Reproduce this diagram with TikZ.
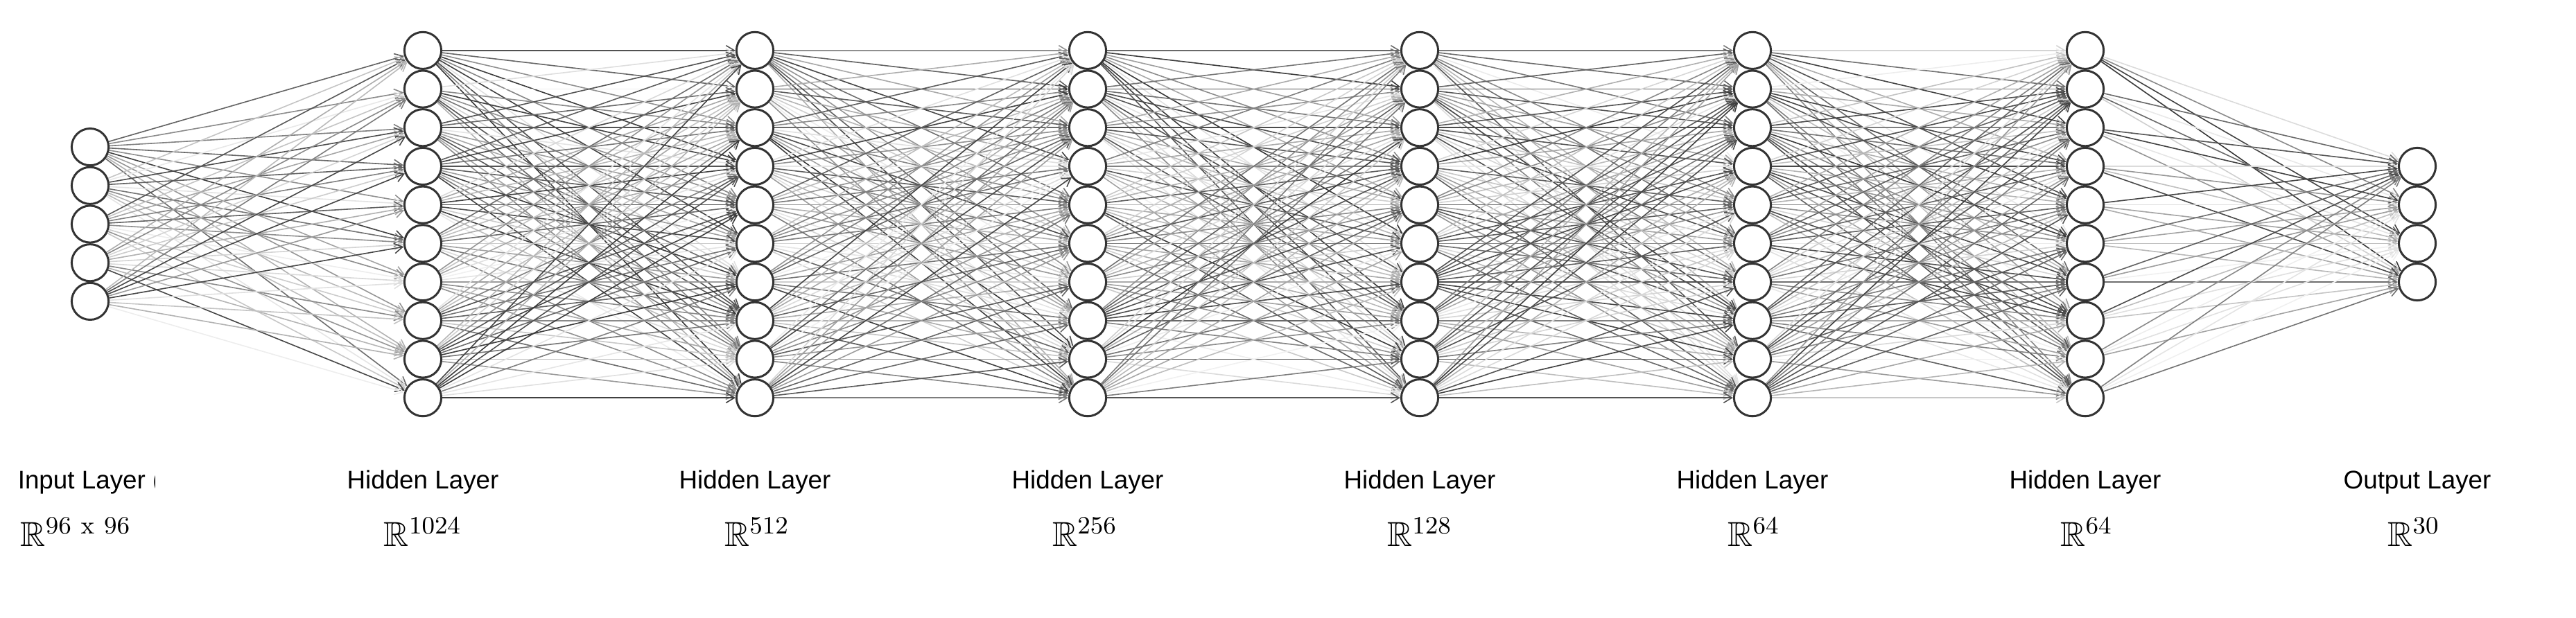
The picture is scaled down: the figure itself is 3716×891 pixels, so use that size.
\documentclass[tikz,border=0pt]{standalone}
\usepackage{amssymb}
\usepackage[no-math]{fontspec}
\setmainfont{Liberation Sans}
\usetikzlibrary{arrows.meta,backgrounds}
\begin{document}
\begin{tikzpicture}[x=0.25pt,y=-0.25pt,
  neuron/.style={circle,draw=black!80,line width=0.75pt,fill=white,minimum size=13.3pt,inner sep=0pt},
  edge/.style={line width=0.4pt,-{Straight Barb[length=3pt,width=3.6pt]}},
  lbl/.style={font=\fontsize{9.2}{11}\selectfont,anchor=base,inner sep=0pt},
  dim/.style={font=\fontsize{12.5}{15}\selectfont,anchor=base,inner sep=0pt}]
\useasboundingbox (0,0) rectangle (3716,891);
\def\sp{55.7}
% neurons
\foreach \l/\x/\n in {0/130/5,1/610/10,2/1089/10,3/1569/10,4/2048/10,5/2528/10,6/3008/10,7/3487/4}{
  \foreach \k in {1,...,\n}{
    \node[neuron] (n\l-\k) at (\x, {323.5+(\k-(\n+1)/2)*\sp}) {};
  }
}
% connections
\pgfmathsetseed{2024}
\begin{scope}[on background layer]
\foreach \a/\na/\b/\nb in {0/5/1/10,1/10/2/10,2/10/3/10,3/10/4/10,4/10/5/10,5/10/6/10,6/10/7/4}{
  \foreach \i in {1,...,\na}{
    \foreach \j in {1,...,\nb}{
      \pgfmathrandominteger{\g}{6}{78}
      \draw[edge,draw=black!\g] (n\a-\i) -- (n\b-\j);
    }
  }
}
\end{scope}
% labels
\begin{scope}
  \clip (0,600) rectangle (223,740);
  \node[lbl,anchor=base west] (lab0) at (25,705) {Input Layer (};
\end{scope}
\foreach \l/\x in {1/610,2/1089,3/1569,4/2048,5/2528,6/3008}{
  \node[lbl] (lab\l) at (\x,705) {Hidden Layer};
}
\node[lbl] (lab7) at (3487,705) {Output Layer};
\node[dim,anchor=base west] (dim0) at (29,788) {$\mathbb{R}^{\mathrm{96\ x\ 96}}$};
\node[dim] (dim1) at (610,788) {$\mathbb{R}^{1024}$};
\node[dim] (dim2) at (1092,788) {$\mathbb{R}^{512}$};
\node[dim] (dim3) at (1565,788) {$\mathbb{R}^{256}$};
\node[dim] (dim4) at (2048,788) {$\mathbb{R}^{128}$};
\node[dim] (dim5) at (2530,788) {$\mathbb{R}^{64}$};
\node[dim] (dim6) at (3010,788) {$\mathbb{R}^{64}$};
\node[dim] (dim7) at (3482,788) {$\mathbb{R}^{30}$};
\end{tikzpicture}
\end{document}
